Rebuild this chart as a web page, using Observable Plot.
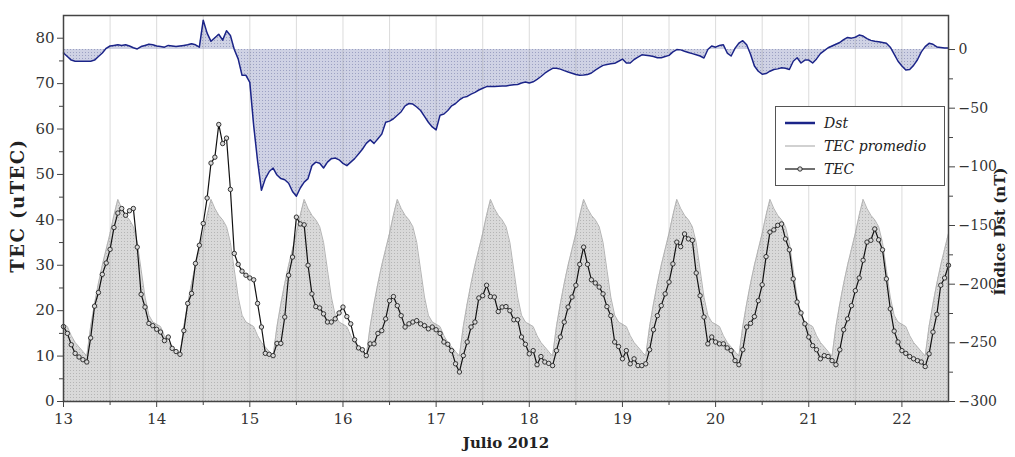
<!DOCTYPE html>
<html><head><meta charset="utf-8">
<script src="https://cdn.jsdelivr.net/npm/d3@7"></script>
<script src="https://cdn.jsdelivr.net/npm/@observablehq/plot@0.6"></script>
<style>
body{margin:0;background:#fff;}
#wrap{position:relative;width:1015px;height:457px;}
#defs{position:absolute;width:0;height:0;}
#legend{position:absolute;left:775px;top:106px;width:170px;height:80px;border:1px solid #555;background:#fff;font-family:"DejaVu Serif",serif;font-style:italic;font-size:14px;color:#222;box-sizing:border-box;}
#legend .row{position:absolute;left:8px;height:20px;display:flex;align-items:center;}
#legend svg{margin-right:8px;}
</style>
</head><body>
<svg id="defs" aria-hidden="true">
  <defs>
    <pattern id="patGris" width="3" height="3" patternUnits="userSpaceOnUse">
      <rect width="3" height="3" fill="#d9d9d9"/><rect x="1" y="1" width="1" height="1" fill="#b5b5b5"/>
    </pattern>
    <pattern id="patAzul" width="3" height="3" patternUnits="userSpaceOnUse">
      <rect width="3" height="3" fill="#cfd2e4"/><rect x="1" y="1" width="1" height="1" fill="#9ca1c3"/>
    </pattern>
  </defs>
</svg>
<div id="wrap"><div id="chart"></div><div id="legend"></div></div>
<script>
// Hourly series starting 13 July 2012 00:00 UT (one value per hour)
const startDay = 13;
const tec = [
 16.5,15,12.5,10.6,9.8,9.2,8.7,14,21,24,28,30.5,33.5,38.3,41.5,42.5,41,42,42.5,34,23.6,20.8,17.2,16.7,
 15.9,15.3,13.4,14.2,11.7,11,10.4,15.6,21.6,23.8,30.4,34.4,39.2,44.8,52.5,53.8,61,56.8,58,46.7,32.6,30.2,28.7,27.8,
 27.2,26.8,21.6,16.4,10.6,10.4,10.1,12.8,12.8,18.6,27.8,31.8,40.6,39.1,38.9,30,23.7,20.9,20.6,19.3,17.5,17.5,18.2,19.5,
 20.8,18.7,17.1,13.6,11.8,11.4,10.1,12.7,12.7,15,15.6,18.2,22.2,23.1,21.1,18.9,16.4,17.1,17.5,17.8,17.1,16.7,16,16.4,
 15.8,15,13.1,12.6,11.2,8.3,6.5,10.1,13.1,16.4,17.5,22.8,23.3,25.6,23.1,23,19.8,20.8,20.9,20,18,18,14.2,12.6,
 10.5,11.2,8.1,9.9,8.7,8.4,7.9,11.2,14.2,17.5,20.8,23,25.6,30.2,34,30.2,26.8,26.1,25.2,23.7,20.9,18.9,13.1,12.1,
 9.4,11.2,8.3,9.4,7.9,7.9,8.3,11.4,15.8,18.9,21.1,23.7,26.3,30.3,35.1,34.1,36.9,35.8,35.5,28.3,23.3,18.6,12.7,14.2,
 13.1,12.7,12.7,11.8,11.2,9,8.1,11.4,16.4,17.2,18.7,22.2,25.7,31.9,37.3,37.8,38.8,39.1,35.8,33.4,27,21.9,19.5,17.1,
 14.2,12.3,11.4,9.4,10.1,9.9,9,8.1,11.4,15.8,18.2,21.1,24.4,27.2,31.1,35.1,35.5,38,35.6,33.4,27,20.4,15.5,13.1,
 11.2,10.6,9.9,9.4,9,8.7,7.7,10.5,15.3,19.2,25.6,27.2,30
];
const tecPromedio = [
 17,16.5,14.5,13,12,11,10,16.5,21.5,26,30,33.5,37,41,44.5,42.5,41,40,38.5,35,29,23,19,17.5,
 17,16.5,14.5,13,12,11,10,16.5,21.5,26,30,33.5,37,41,44.5,42.5,41,40,38.5,35,29,23,19,17.5,
 17,16.5,14.5,13,12,11,10,16.5,21.5,26,30,33.5,37,41,44.5,42.5,41,40,38.5,35,29,23,19,17.5,
 17,16.5,14.5,13,12,11,10,16.5,21.5,26,30,33.5,37,41,44.5,42.5,41,40,38.5,35,29,23,19,17.5,
 17,16.5,14.5,13,12,11,10,16.5,21.5,26,30,33.5,37,41,44.5,42.5,41,40,38.5,35,29,23,19,17.5,
 17,16.5,14.5,13,12,11,10,16.5,21.5,26,30,33.5,37,41,44.5,42.5,41,40,38.5,35,29,23,19,17.5,
 17,16.5,14.5,13,12,11,10,16.5,21.5,26,30,33.5,37,41,44.5,42.5,41,40,38.5,35,29,23,19,17.5,
 17,16.5,14.5,13,12,11,10,16.5,21.5,26,30,33.5,37,41,44.5,42.5,41,40,38.5,35,29,23,19,17.5,
 17,16.5,14.5,13,12,11,10,16.5,21.5,26,30,33.5,37,41,44.5,42.5,41,40,38.5,35,29,23,19,17.5,
 17,16.5,14.5,13,12,11,10,16.5,21.5,26,30,33.5,37,41
];
const dst = [
 -3,-6,-9,-10,-10,-10,-10,-10,-9,-6,-3,1,3,3.5,4,3.5,4,3,1.5,0.5,2.5,3.5,4.5,4,
 3,2.5,2,3.5,3,2.5,3,3.5,4,5,4,2,25,14,7,10,13,8,16,12,0,-8,-22,-22,
 -28,-65,-95,-120,-110,-104,-101,-107,-110,-111,-114,-121,-125,-118,-113,-110,-99,-96,-97,-101,-96,-93,-92.5,-94,
 -97,-99,-96,-93,-89,-85,-80,-77,-80,-76,-72,-62,-61,-59,-56,-53,-48,-46,-46.5,-49,-52,-57,-62,-66,
 -68.5,-56,-55,-52,-48,-46,-43,-40.8,-40,-38,-36.5,-34.5,-33,-31.6,-31.6,-31.6,-31.3,-31,-31,-30.5,-30,-29.8,-28.5,-27.7,
 -28.6,-27.5,-25.4,-23,-20.2,-18,-16,-16,-16.7,-18,-19.2,-20.2,-21.3,-22,-21.8,-21.3,-20,-17.5,-15.5,-13.5,-12.7,-12.2,-11.8,-10,
 -8.1,-11.5,-11.5,-8.5,-6.5,-4.5,-4.8,-5.3,-6,-7,-7,-6,-5,-2,0,-0.3,-1.5,-2.5,-3.5,-4.5,-5.5,-7.2,0,3,
 2,3.5,4,-3,-5.5,1,5.5,7.5,4,-4,-14,-18.5,-21,-20.5,-18.5,-17,-16.5,-15.5,-16,-17,-10,-7,-11.5,-9,
 -9,-11.5,-8,-3.5,-1,1.5,3,4.5,6,8.5,10.3,9.7,10.5,12.3,11.5,9.3,7.8,7,6.7,6,5.3,2,-4,-10,
 -14,-17.5,-17,-13.5,-8.7,-2,2.5,5.3,4.5,2.2,1.8,1.3,1.2
];
const dayTicks = [13,14,15,16,17,18,19,20,21,22];
const tecTicks = [0,10,20,30,40,50,60,70,80];
const dstTicks = [0,-50,-100,-150,-200,-250,-300];
const labels = {x:"Julio 2012", yLeft:"TEC (uTEC)", yRight:"Índice Dst (nT)"};
const legendItems = ["Dst","TEC promedio","TEC"];

// Dst (right axis) mapped onto the TEC (left axis) scale
const tecDomain = [0, 85];
const dstDomain = [-300, 29];
const toY = d => (d - dstDomain[0]) / (dstDomain[1] - dstDomain[0]) * (tecDomain[1] - tecDomain[0]) + tecDomain[0];
const fromY = y => (y - tecDomain[0]) / (tecDomain[1] - tecDomain[0]) * (dstDomain[1] - dstDomain[0]) + dstDomain[0];

const rows = tec.map((v, i) => ({dia: startDay + i / 24, tec: v, prom: tecPromedio[i], dst: dst[i]}));
const halfDays = d3.range(13.5, 22.5, 1);
const gridDays = d3.range(13.5, 22.5, 0.5);
const tecMinor = d3.range(5, 85, 10);
const dstMinor = d3.range(-275, 25, 50);
const minus = s => String(s).replace("-", "\u2212");

const BLUE = "#1b2488";
const chart = Plot.plot({
  width: 1015, height: 457,
  marginLeft: 63, marginRight: 67, marginTop: 15, marginBottom: 56,
  x: {domain: [13, 22.5]},
  y: {domain: tecDomain},
  style: {fontFamily: "DejaVu Serif, serif", fontSize: "14px", color: "#333", background: "#fff"},
  marks: [
    Plot.areaY(rows, {x: "dia", y: "prom", fill: "url(#patGris)"}),
    Plot.lineY(rows, {x: "dia", y: "prom", stroke: "#b3b3b3", strokeWidth: 1}),
    Plot.areaY(rows, {x: "dia", y1: () => toY(0), y2: d => toY(d.dst), fill: "url(#patAzul)"}),
    Plot.ruleX(gridDays, {stroke: "#999", strokeOpacity: 0.35, strokeWidth: 1}),
    Plot.lineY(rows, {x: "dia", y: d => toY(d.dst), stroke: BLUE, strokeWidth: 1.5}),
    Plot.lineY(rows, {x: "dia", y: "tec", stroke: "#111", strokeWidth: 1.2}),
    Plot.dot(rows, {x: "dia", y: "tec", r: 2.2, stroke: "#222", strokeWidth: 0.9, fill: "#d8d8d8"}),
    Plot.frame({stroke: "#444", strokeWidth: 1.5}),
    Plot.axisX({ticks: dayTicks, tickSize: 6, tickPadding: 6, label: null, fontSize: 15, stroke: "#444"}),
    Plot.axisX({ticks: halfDays, tickSize: 4, tickFormat: () => "", label: null, stroke: "#444"}),
    Plot.axisY({anchor: "left", ticks: tecTicks, tickSize: 6, tickPadding: 3, label: null, fontSize: 15, stroke: "#444"}),
    Plot.axisY({anchor: "left", ticks: tecMinor, tickSize: 4, tickFormat: () => "", label: null, stroke: "#444"}),
    Plot.axisY({anchor: "right", ticks: dstTicks.map(toY), tickSize: 6, tickPadding: 4, label: null, fontSize: 14,
      tickFormat: t => minus(Math.round(fromY(t))), stroke: "#444"}),
    Plot.axisY({anchor: "right", ticks: dstMinor.map(toY), tickSize: 4, tickFormat: () => "", label: null, stroke: "#444"}),
    Plot.text([labels.x], {frameAnchor: "bottom", dy: 46, textAnchor: "middle", fontWeight: "bold", fontSize: 15, fill: "#222"}),
    Plot.text([labels.yLeft], {frameAnchor: "left", dx: -45, dy: -3, textAnchor: "middle", rotate: -90, fontWeight: "bold", fontSize: 18, fill: "#222"}),
    Plot.text([labels.yRight], {frameAnchor: "right", dx: 52, dy: 23, textAnchor: "middle", rotate: -90, fontWeight: "bold", fontSize: 15, fill: "#222"})
  ]
});
document.getElementById("chart").appendChild(chart);
// wider letter spacing on the left axis title, as in the original typeface
d3.select(chart).selectAll("text").filter(function(){ return this.textContent === labels.yLeft; }).style("letter-spacing", "1.5px");

// Legend (inside the plot area, upper right)
const lg = document.getElementById("legend");
const sw = [
  `<svg width="32" height="10"><line x1="1" y1="5" x2="31" y2="5" stroke="${BLUE}" stroke-width="2.5"/></svg>`,
  `<svg width="32" height="10"><line x1="1" y1="5" x2="31" y2="5" stroke="#b3b3b3" stroke-width="1.2"/></svg>`,
  `<svg width="32" height="10"><line x1="1" y1="5" x2="31" y2="5" stroke="#111" stroke-width="1.2"/><circle cx="16" cy="5" r="2.2" fill="#d8d8d8" stroke="#222" stroke-width="0.9"/></svg>`
];
legendItems.forEach((t, i) => {
  const r = document.createElement("div");
  r.className = "row";
  r.style.top = (6 + i * 23) + "px";
  r.innerHTML = sw[i] + "<span>" + t + "</span>";
  lg.appendChild(r);
});
</script>
</body></html>
